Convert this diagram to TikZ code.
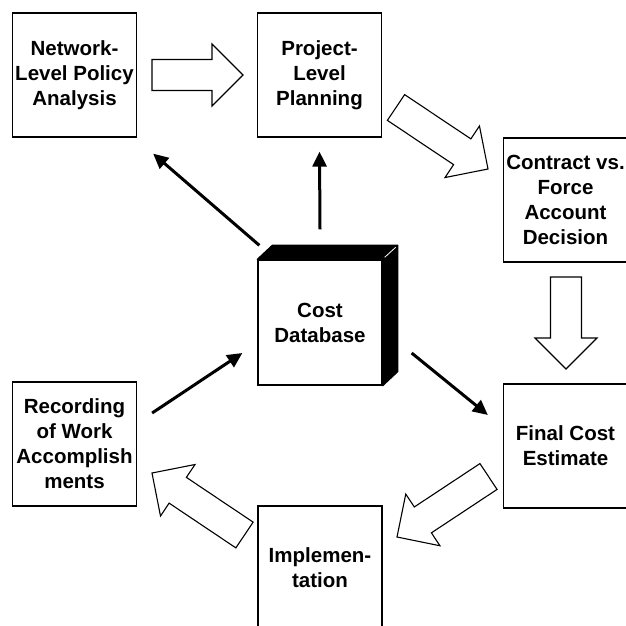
\documentclass[tikz,border=0pt]{standalone}
\usepackage{fontspec}
\setmainfont{Liberation Sans}
\usetikzlibrary{calc,arrows.meta}

% outlined block arrow from tail #1 to tip #2
\newcommand\hollowarrow[2]{%
  \path ($(#2)!31pt!(#1)$) coordinate (hb);
  \draw[hollow] ($(#1)!15.5pt!90:(#2)$) -- ($(hb)!15.5pt!-90:(#1)$)
    -- ($(hb)!31pt!-90:(#1)$) -- (#2) -- ($(hb)!31pt!90:(#1)$)
    -- ($(hb)!15.5pt!90:(#1)$) -- ($(#1)!15.5pt!-90:(#2)$) -- cycle;}

\begin{document}
\begin{tikzpicture}[x=1pt,y=-1pt,
  box/.style={draw,fill=white,line width=1.3pt,minimum width=124pt,minimum height=124pt,
    align=center,inner sep=0pt,font=\bfseries\fontsize{20.5}{25}\selectfont},
  hollow/.style={draw,line width=1.1pt,fill=white,line join=miter},
  link/.style={line width=3pt,-{Triangle[length=15pt,width=14pt]}},
  side/.style={draw,line width=1.3pt,fill=black,line join=round}
]
\clip (0,0) rectangle (626,626);

% process steps
\node[box] (net)  at (74.5,75)   {Network-\\Level Policy\\Analysis};
\node[box] (proj) at (319.5,75)  {Project-\\Level\\Planning};
\node[box] (con)  at (565.5,200) {Contract vs.\\Force\\Account\\Decision};
\node[box] (fin)  at (565.5,446) {Final Cost\\Estimate};
\node[box] (impl) at (320,568)   {Implemen-\\tation};
\node[box] (rec)  at (74.5,444)  {Recording\\of Work\\Accomplish\\ments};

% central database block
\node[box,minimum height=125pt] (cube) at (320,322.5) {Cost\\Database};
\draw[side] (cube.north west) -- ++(15,-14) -- ($(cube.north east)+(15,-14)$)
  -- (cube.north east) -- cycle;
\draw[side] (cube.north east) -- ++(15,-14) -- ($(cube.south east)+(15,-14)$)
  -- (cube.south east) -- cycle;
\draw[white,line width=0.8pt] ($(cube.north east)+(2,-2)$) -- ++(11,-10);

% cycle arrows
\coordinate (a1t) at (152,75);    \coordinate (a1h) at (243,75);
\coordinate (a2t) at (396,107.5); \coordinate (a2h) at (488,169);
\coordinate (a3t) at (566,277);   \coordinate (a3h) at (566,369);
\coordinate (a4t) at (488.5,476.5); \coordinate (a4h) at (397,537);
\coordinate (a5t) at (244.5,535); \coordinate (a5h) at (152,473);
\hollowarrow{a1t}{a1h}
\hollowarrow{a2t}{a2h}
\hollowarrow{a3t}{a3h}
\hollowarrow{a4t}{a4h}
\hollowarrow{a5t}{a5h}

% data flows
\draw[link] ([xshift=2pt,yshift=14pt]cube.north west) -- ([xshift=16pt,yshift=-16pt]net.south east);
\draw[link] ([yshift=30pt]cube.north) -- ([yshift=-14pt]proj.south);
\draw[link] ([xshift=15pt,yshift=31pt]rec.east) -- ([xshift=-15pt,yshift=-30.5pt]cube.west);
\draw[link] ([xshift=29pt,yshift=-30.5pt]cube.east) -- ([xshift=-15pt,yshift=31pt]fin.west);
\end{tikzpicture}
\end{document}
